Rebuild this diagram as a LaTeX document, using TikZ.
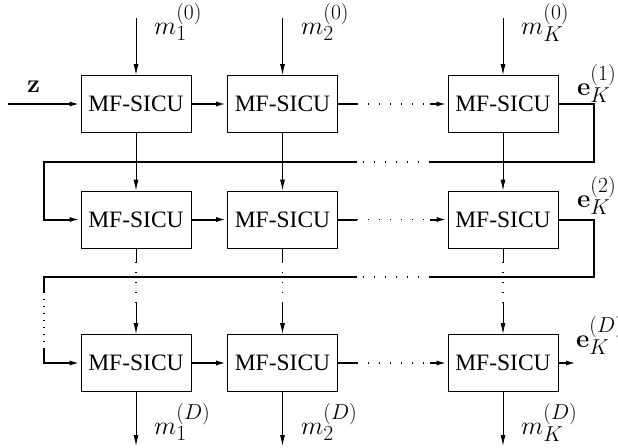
\documentclass[tikz,border=0pt]{standalone}
\usepackage[no-math]{fontspec}
\setmainfont{Liberation Serif}
\usetikzlibrary{arrows.meta}
\newcommand{\biglab}[1]{\scalebox{1.04}{#1}}
\begin{document}
\begin{tikzpicture}[x=1pt,y=-1pt,
  unit/.style={draw,line width=0.8pt,minimum width=110pt,minimum height=57pt,inner sep=0pt,
    font=\fontsize{23.5}{28}\selectfont},
  thin/.style={line width=0.9pt},
  bus/.style={line width=2pt},
  tip/.style={-{Latex[length=11pt,width=5pt]}},
  dotsh/.style={line width=1.3pt,dash pattern=on 1.3pt off 9.7pt},
  dotsv/.style={line width=1.2pt,dash pattern=on 1.2pt off 8.8pt},
  dotsl/.style={line width=1.3pt,dash pattern=on 1.3pt off 5.7pt},
  lab/.style={anchor=base west,inner sep=0pt,font=\fontsize{24.88}{30}\selectfont}]
\useasboundingbox (0,0) rectangle (618,447);

% processing units, three rows by three columns
\node[unit] (b11) at (136,104)   {MF-SICU};
\node[unit] (b12) at (282.5,104) {MF-SICU};
\node[unit] (b13) at (503,104)   {MF-SICU};
\node[unit] (b21) at (136,219.5)   {MF-SICU};
\node[unit] (b22) at (282.5,219.5) {MF-SICU};
\node[unit] (b23) at (503,219.5)   {MF-SICU};
\node[unit] (b31) at (136,363)   {MF-SICU};
\node[unit] (b32) at (282.5,363) {MF-SICU};
\node[unit] (b33) at (503,363)   {MF-SICU};

% helper points
\coordinate (zin) at (8,104);
\coordinate (top) at (0,18);
\coordinate (bot) at (0,446);
\coordinate (gapA) at (357,0);
\coordinate (gapB) at (430,0);
\coordinate (vA) at (0,262);
\coordinate (vB) at (0,303);
\coordinate (f1a) at (594,162);
\coordinate (f1d) at (44,162);
\coordinate (f2a) at (594,277);
\coordinate (f2d) at (44,277);
\coordinate (lA) at (44,292);
\coordinate (lB) at (44,349);
\coordinate (eout) at (577,363);

% input vector
\draw[bus,tip] (zin) -- (b11.west);
\node[lab] (lz) at (27,92) {\biglab{$\mathbf{z}$}};

% top inputs
\foreach \c in {1,2,3}{
  \draw[thin,tip] (b1\c.north |- top) -- (b1\c.north);
}
\node[lab] (m10) at (154,34) {\biglab{$m_1^{(0)}$}};
\node[lab] (m20) at (301,34) {\biglab{$m_2^{(0)}$}};
\node[lab] (mK0) at (521,34) {\biglab{$m_K^{(0)}$}};

% row connections
\foreach \r in {1,2,3}{
  \draw[bus,tip] (b\r1.east) -- (b\r2.west);
  \draw[bus] (b\r2.east) -- (b\r2.east -| gapA);
  \draw[dotsh] (b\r2.east -| gapA) -- (b\r2.east -| gapB);
  \draw[bus,tip] (b\r2.east -| gapB) -- (b\r3.west);
}

% vertical connections between rows
\foreach \c in {1,2,3}{
  \draw[thin,tip] (b1\c.south) -- (b2\c.north);
  \draw[thin] (b2\c.south) -- (b2\c.south |- vA);
  \draw[dotsv] (b2\c.south |- vA) -- (b2\c.south |- vB);
  \draw[thin,tip] (b2\c.south |- vB) -- (b3\c.north);
  \draw[thin,tip] (b3\c.south) -- (b3\c.south |- bot);
}

% feedback from row 1 to row 2
\draw[bus] (b13.east) -| (f1a) -- (f1a -| gapB);
\draw[dotsh] (f1a -| gapB) -- (f1a -| gapA);
\draw[bus,tip] (f1a -| gapA) -- (f1d) |- (b21.west);
\node[lab] (e1) at (577,95) {\biglab{$\mathbf{e}_K^{(1)}$}};

% feedback from row 2 onwards
\draw[bus] (b23.east) -| (f2a) -- (f2a -| gapB);
\draw[dotsh] (f2a -| gapB) -- (f2a -| gapA);
\draw[bus] (f2a -| gapA) -- (f2d) -- (lA);
\draw[dotsl] (lA) -- (lB);
\draw[bus,tip] (lB) |- (b31.west);
\node[lab] (e2) at (577,207) {\biglab{$\mathbf{e}_K^{(2)}$}};

% final output
\draw[bus,tip] (b33.east) -- (eout);
\node[lab] (eD) at (576,347) {\biglab{$\mathbf{e}_K^{(D)}$}};

% outputs
\node[lab] (m1D) at (154,434) {\biglab{$m_1^{(D)}$}};
\node[lab] (m2D) at (301,434) {\biglab{$m_2^{(D)}$}};
\node[lab] (mKD) at (521,434) {\biglab{$m_K^{(D)}$}};
\end{tikzpicture}
\end{document}
